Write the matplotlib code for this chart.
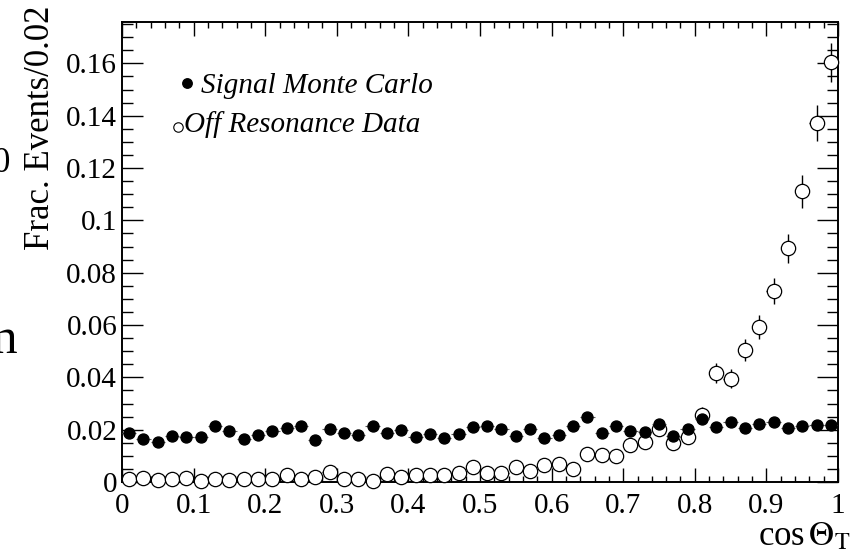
import numpy as np
import matplotlib
matplotlib.use("Agg")
from matplotlib import pyplot as plt
from matplotlib.ticker import MultipleLocator, FormatStrFormatter

plt.rcParams["font.family"] = "Liberation Serif"
plt.rcParams["mathtext.fontset"] = "stix"

# 50 bins of width 0.02 in cos(theta_T)
bin_edges = np.linspace(0.0, 1.0, 51)
bin_centers = 0.5 * (bin_edges[:-1] + bin_edges[1:])
half_width = 0.5 * (bin_edges[1] - bin_edges[0])

signal_mc = [0.0186, 0.0164, 0.0152, 0.0175, 0.0173, 0.0172, 0.0213, 0.0196, 0.0163, 0.0178,
             0.0196, 0.0206, 0.0213, 0.0160, 0.0204, 0.0186, 0.0180, 0.0213, 0.0186, 0.0199,
             0.0173, 0.0183, 0.0169, 0.0183, 0.0212, 0.0214, 0.0201, 0.0176, 0.0201, 0.0167,
             0.0180, 0.0214, 0.0247, 0.0186, 0.0214, 0.0196, 0.0192, 0.0222, 0.0176, 0.0204,
             0.0241, 0.0211, 0.0228, 0.0206, 0.0222, 0.0228, 0.0205, 0.0214, 0.0219, 0.0219]

off_res = [0.0010, 0.0015, 0.0006, 0.0011, 0.0014, 0.0003, 0.0013, 0.0008, 0.0013, 0.0010,
           0.0010, 0.0026, 0.0010, 0.0020, 0.0038, 0.0013, 0.0013, 0.0004, 0.0029, 0.0018,
           0.0026, 0.0028, 0.0026, 0.0036, 0.0056, 0.0034, 0.0036, 0.0056, 0.0043, 0.0064,
           0.0068, 0.0050, 0.0107, 0.0104, 0.0099, 0.0141, 0.0153, 0.0201, 0.0148, 0.0173,
           0.0256, 0.0418, 0.0395, 0.0505, 0.0593, 0.0730, 0.0893, 0.1112, 0.1373, 0.1604]

off_res_err = [0.0006, 0.0007, 0.0005, 0.0006, 0.0007, 0.0003, 0.0007, 0.0005, 0.0007, 0.0006,
               0.0006, 0.0010, 0.0006, 0.0008, 0.0012, 0.0007, 0.0007, 0.0004, 0.0010, 0.0008,
               0.0010, 0.0010, 0.0010, 0.0011, 0.0014, 0.0011, 0.0011, 0.0014, 0.0012, 0.0015,
               0.0015, 0.0013, 0.0019, 0.0019, 0.0019, 0.0022, 0.0023, 0.0027, 0.0023, 0.0025,
               0.0030, 0.0038, 0.0037, 0.0042, 0.0045, 0.0051, 0.0056, 0.0063, 0.0068, 0.0075]

fig = plt.figure(figsize=(8.54, 5.58), dpi=100)
ax = fig.add_axes([122 / 854, 76 / 558, 716 / 854, 460 / 558])

# off resonance data: open circles with error bars
ax.errorbar(bin_centers, off_res, xerr=half_width, yerr=off_res_err, fmt="none",
            ecolor="black", elinewidth=1.0, capsize=0, zorder=2, clip_on=False)
ax.plot(bin_centers, off_res, "o", ms=10.3, mfc="white", mec="black", mew=0.9,
        ls="none", zorder=3, clip_on=False)

# signal MC: filled circles
ax.errorbar(bin_centers, signal_mc, xerr=half_width, fmt="none",
            ecolor="0.35", elinewidth=0.8, capsize=0, zorder=3.5)
ax.plot(bin_centers, signal_mc, "o", ms=7.9, color="black", ls="none", zorder=4)

ax.set_xlim(0, 1)
ax.set_ylim(0, 0.1758)

ax.xaxis.set_major_locator(MultipleLocator(0.1))
ax.xaxis.set_minor_locator(MultipleLocator(0.02))
ax.yaxis.set_major_locator(MultipleLocator(0.02))
ax.yaxis.set_minor_locator(MultipleLocator(0.005))
ax.xaxis.set_major_formatter(FormatStrFormatter("%g"))
ax.yaxis.set_major_formatter(FormatStrFormatter("%g"))

ax.tick_params(which="both", direction="in", top=True, right=True, width=1.0, labelsize=21)
ax.tick_params(axis="x", which="major", length=10, pad=8)
ax.tick_params(axis="x", which="minor", length=4.5)
ax.tick_params(axis="y", which="major", length=15, pad=3.5)
ax.tick_params(axis="y", which="minor", length=8)
for sp in ax.spines.values():
    sp.set_linewidth(1.4)

# legend drawn by hand
ax.plot([0.0908], [0.8667], "o", ms=6.8, color="black", transform=ax.transAxes)
ax.text(0.1100, 0.8450, "Signal Monte Carlo", style="italic", fontsize=21,
        transform=ax.transAxes, va="baseline", ha="left")
ax.plot([0.0782], [0.7717], "o", ms=6.8, mfc="white", mec="black", mew=0.8,
        transform=ax.transAxes)
ax.text(0.0870, 0.7615, "Off Resonance Data", style="italic", fontsize=21,
        transform=ax.transAxes, va="baseline", ha="left")

fig.text(41 / 854, 1 - 6 / 558, "Frac. Events/0.02", rotation=90, fontsize=25,
         ha="center", va="top")
fig.text(850 / 854, 1 - 545 / 558, r"cos$\,\Theta_{\mathrm{T}}$", fontsize=25,
         ha="right", va="baseline")

# pieces of neighbouring text cut by the left edge
fig.text(10 / 854, 1 - 164 / 558, "0", fontsize=25, ha="right", va="center")
fig.text(18 / 854, 1 - 353 / 558, "n", fontsize=37, ha="right", va="baseline")

fig.savefig("out.png", dpi=100)
